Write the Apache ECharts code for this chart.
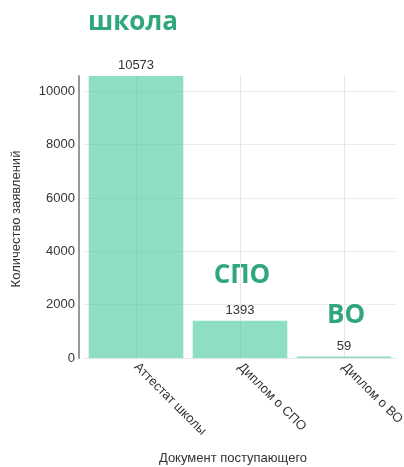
<!DOCTYPE html>
<html>
<head>
<meta charset="utf-8">
<script src="https://cdn.jsdelivr.net/npm/echarts@6/dist/echarts.min.js"></script>
<style>html,body{margin:0;padding:0;background:#fff}#c{width:404px;height:467px}</style>
</head>
<body>
<div id="c"></div>
<script>
var categories = ['Аттестат школы', 'Диплом о СПО', 'Диплом о ВО'];
var values = [10573, 1393, 59];
var annotations = ['школа', 'СПО', 'ВО'];
var yTicks = [0, 2000, 4000, 6000, 8000, 10000];

var chart = echarts.init(document.getElementById('c'), null, {renderer: 'canvas'});
var axisFont = 'Arial, "Liberation Sans", sans-serif';
var annFont = '"Open Sans", sans-serif';
var green = '#2ea77b';
var txt = '#333';

var gridL = 84, gridR = 8, gridT = 76, gridB = 109;
var yMax = values[0];

chart.setOption({
  animation: false,
  grid: {left: gridL, right: gridR, top: gridT, bottom: gridB, containLabel: false, outerBoundsMode: 'none'},
  xAxis: {
    type: 'category',
    data: categories,
    axisLine: {show: true, lineStyle: {color: '#e6e6e6', width: 1}},
    axisTick: {show: false},
    splitLine: {show: false},
    axisLabel: {rotate: -45, color: txt, fontFamily: axisFont, fontSize: 13, margin: 7, interval: 0}
  },
  yAxis: {
    type: 'value',
    min: 0,
    max: yMax,
    interval: 2000,
    offset: 5,
    axisLine: {show: true, lineStyle: {color: '#999', width: 2}},
    axisTick: {show: false},
    axisLabel: {
      color: txt, fontFamily: axisFont, fontSize: 13, margin: 4,
      formatter: function (v) { return yTicks.indexOf(v) >= 0 ? String(v) : ''; }
    },
    splitLine: {show: true, lineStyle: {color: ['#ececec','#ececec','#ececec','#ececec','#ececec','#ececec','rgba(0,0,0,0)'], width: 1}}
  },
  series: [
    {
      type: 'line',
      data: [],
      z: 1,
      silent: true,
      markLine: {
        silent: true,
        z: 1,
        symbol: 'none',
        label: {show: false},
        lineStyle: {color: '#e6e6e6', type: 'solid', width: 1},
        data: categories.map(function (c) { return {xAxis: c}; })
      }
    },
    {
      type: 'bar',
      z: 3,
      data: values,
      barCategoryGap: '9%',
      itemStyle: {color: 'rgba(61,199,154,0.58)'},
      label: {show: true, position: 'top', distance: 4, color: txt, fontFamily: axisFont, fontSize: 13}
    }
  ]
});

function place() {
  var g = [];
  var yTitleY = gridT + (467 - gridT - gridB) / 2 + 2;
  g.push({type: 'text', x: 16, y: yTitleY, rotation: Math.PI / 2,
    style: {text: 'Количество заявлений', font: '13px ' + axisFont, fill: txt, textAlign: 'center', textVerticalAlign: 'middle'}});
  g.push({type: 'text', x: 233, y: 458,
    style: {text: 'Документ поступающего', font: '13px ' + axisFont, fill: txt, textAlign: 'center', textVerticalAlign: 'middle'}});
  var annY = [12560, 3100, 1600];
  for (var i = 0; i < categories.length; i++) {
    var p = chart.convertToPixel({seriesIndex: 1}, [i, annY[i]]);
    g.push({type: 'text', x: p[0] + (i === 0 ? -3 : 2), y: p[1],
      style: {text: annotations[i], font: 'bold 26px ' + annFont, fill: green, textAlign: 'center', textVerticalAlign: 'middle'}});
  }
  chart.setOption({graphic: g});
}
place();
</script>
</body>
</html>
